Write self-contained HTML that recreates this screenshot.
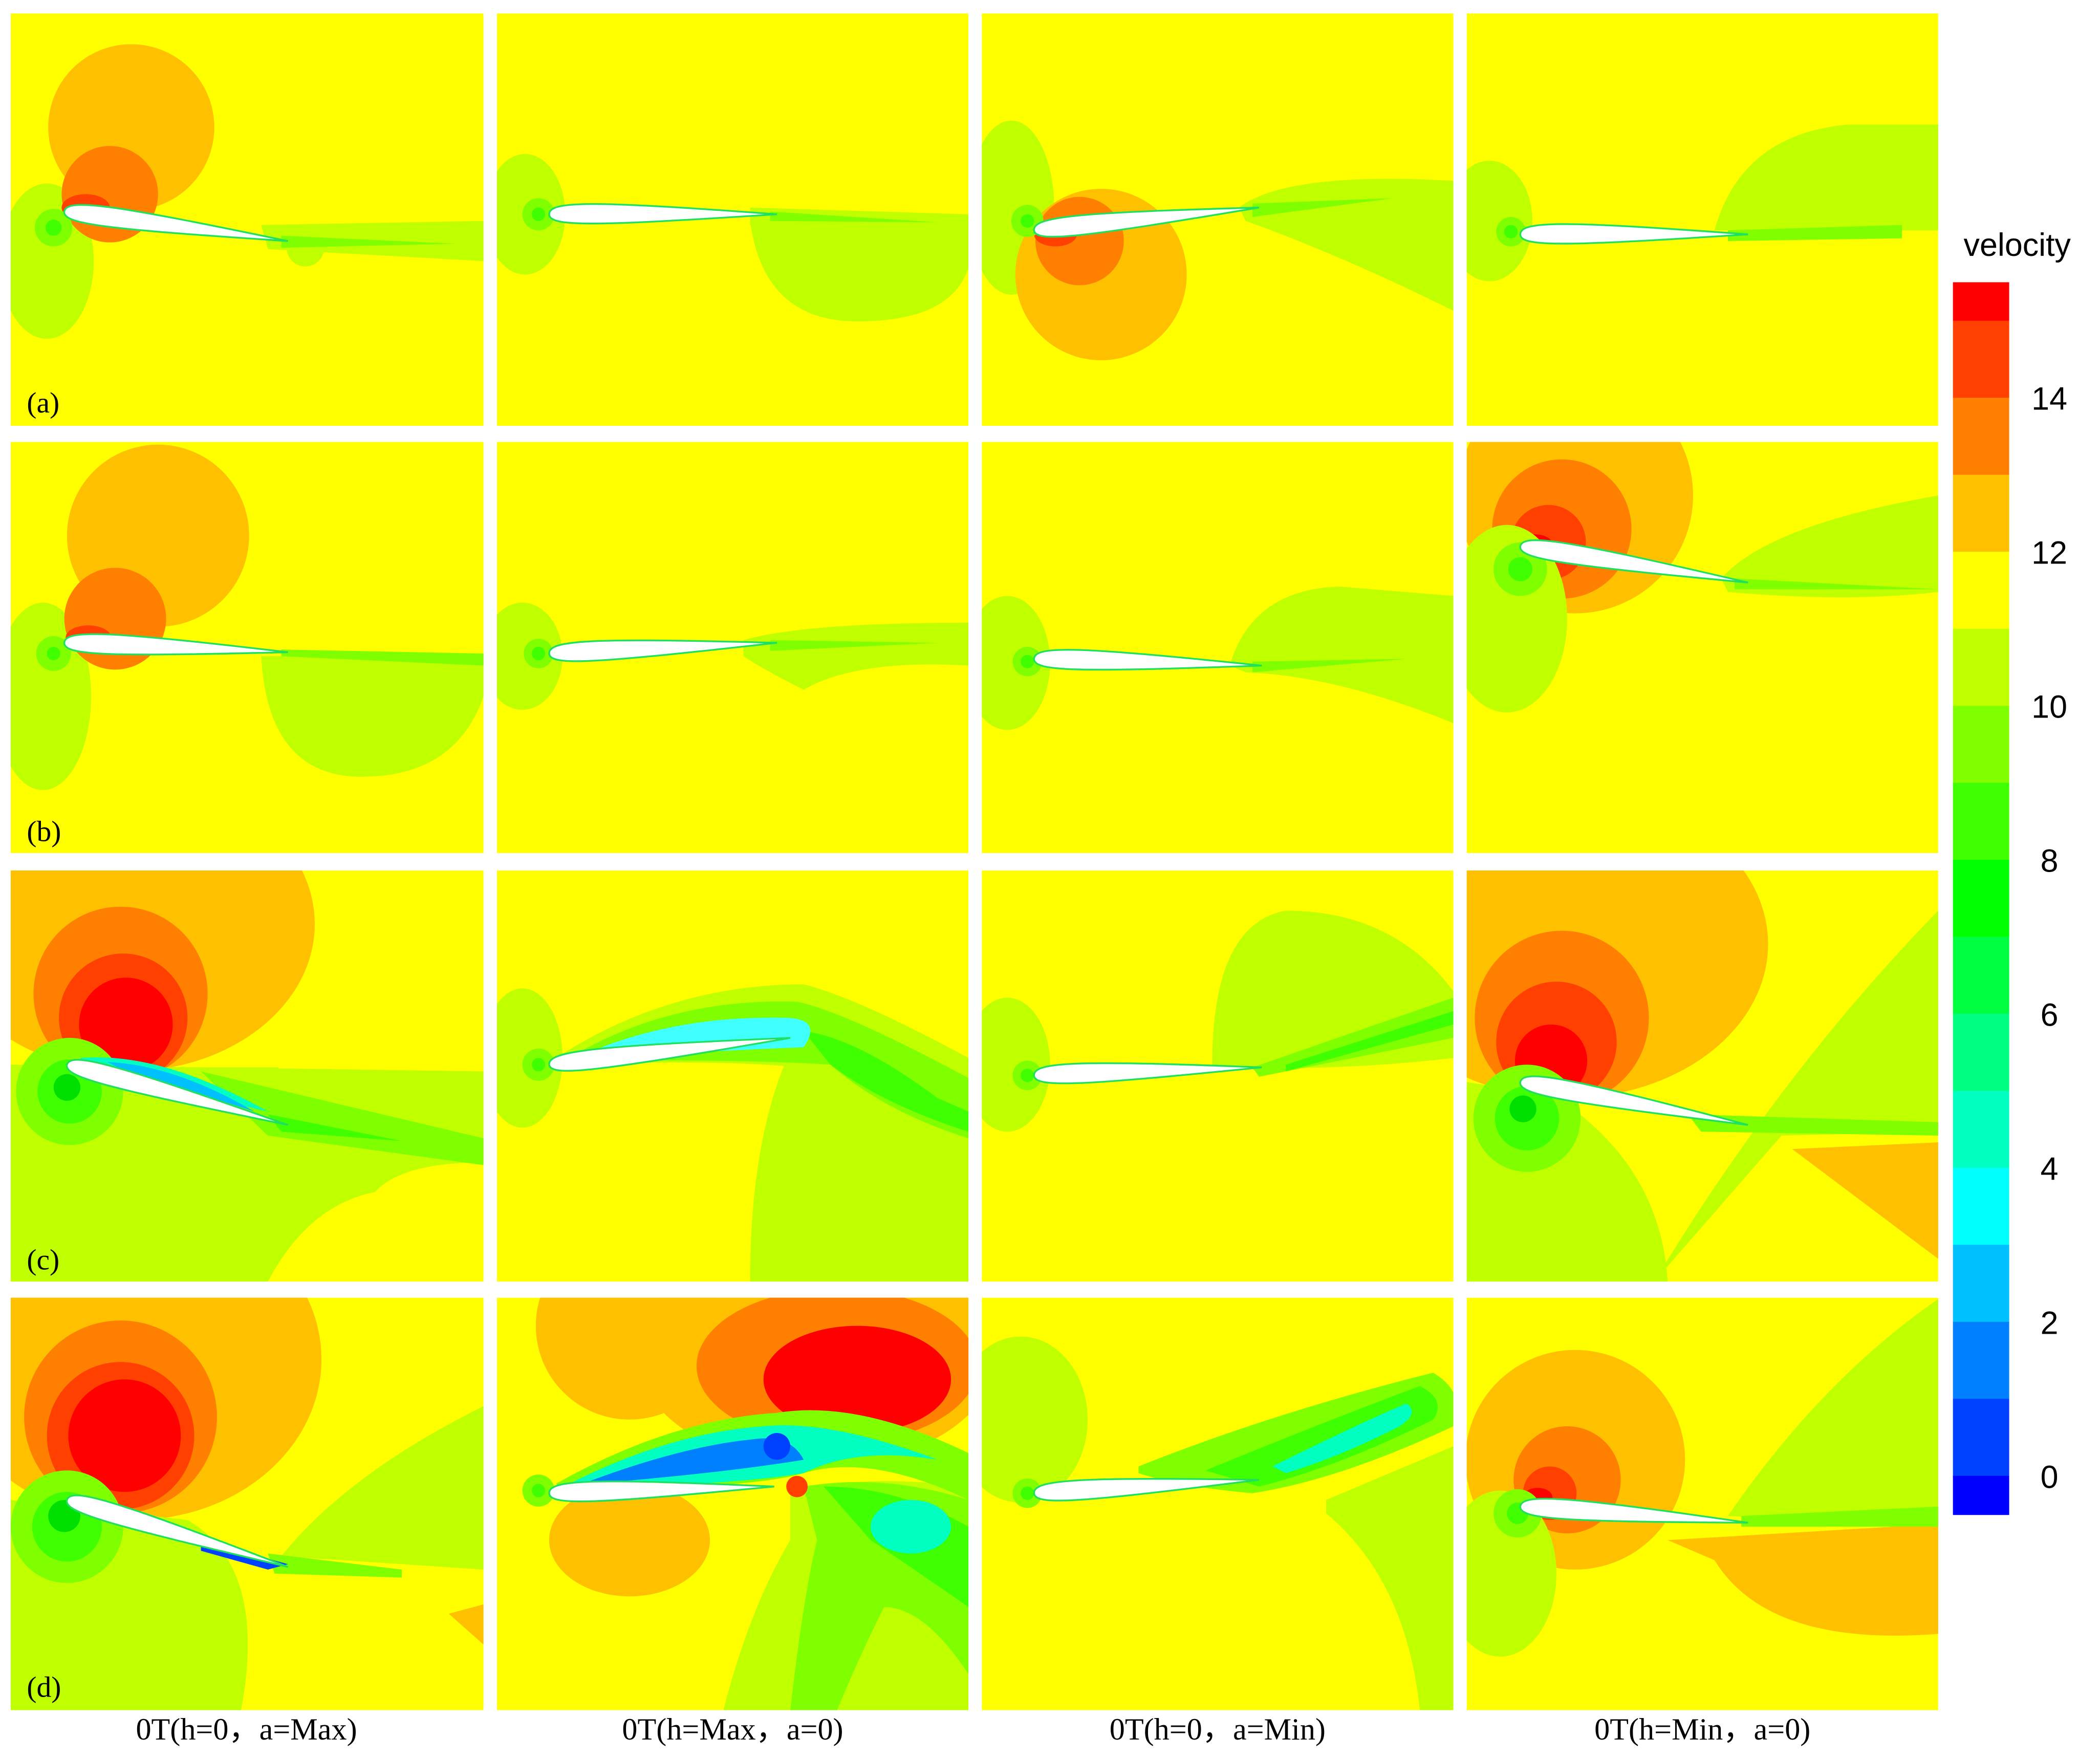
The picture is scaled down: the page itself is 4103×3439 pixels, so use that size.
<!DOCTYPE html>
<html><head><meta charset="utf-8"><style>
html,body{margin:0;padding:0;background:#fff;}
svg{display:block;}
.lbl{font-family:"Liberation Serif",serif;font-size:22px;fill:#000;}
.cap{font-family:"Liberation Serif",serif;font-size:23px;fill:#000;}
.cb{font-family:"Liberation Sans",sans-serif;font-size:24px;fill:#000;}
</style></head><body>
<svg id="fig" width="4103" height="3439" viewBox="0 0 1567.8 1314.2" preserveAspectRatio="none" xmlns="http://www.w3.org/2000/svg">
<defs>
<clipPath id="c00"><rect x="8" y="10" width="353" height="308"/></clipPath>
<clipPath id="c01"><rect x="371" y="10" width="352" height="308"/></clipPath>
<clipPath id="c02"><rect x="733" y="10" width="352" height="308"/></clipPath>
<clipPath id="c03"><rect x="1095" y="10" width="352" height="308"/></clipPath>
<clipPath id="c10"><rect x="8" y="330" width="353" height="307"/></clipPath>
<clipPath id="c11"><rect x="371" y="330" width="352" height="307"/></clipPath>
<clipPath id="c12"><rect x="733" y="330" width="352" height="307"/></clipPath>
<clipPath id="c13"><rect x="1095" y="330" width="352" height="307"/></clipPath>
<clipPath id="c20"><rect x="8" y="650" width="353" height="307"/></clipPath>
<clipPath id="c21"><rect x="371" y="650" width="352" height="307"/></clipPath>
<clipPath id="c22"><rect x="733" y="650" width="352" height="307"/></clipPath>
<clipPath id="c23"><rect x="1095" y="650" width="352" height="307"/></clipPath>
<clipPath id="c30"><rect x="8" y="969" width="353" height="308"/></clipPath>
<clipPath id="c31"><rect x="371" y="969" width="352" height="308"/></clipPath>
<clipPath id="c32"><rect x="733" y="969" width="352" height="308"/></clipPath>
<clipPath id="c33"><rect x="1095" y="969" width="352" height="308"/></clipPath>
</defs>

<!-- Row a -->
<g clip-path="url(#c00)">
<rect x="8" y="10" width="353" height="308" fill="#ffff00"/>
<ellipse cx="35" cy="195" rx="35" ry="58" fill="#c0ff00"/>
<circle cx="98" cy="95" r="62" fill="#ffc000"/>
<circle cx="82" cy="145" r="36" fill="#ff8000"/>
<ellipse cx="64" cy="155" rx="18" ry="10" fill="#ff4000"/>
<path d="M195,168 L361,165 L361,195 L200,186Z" fill="#c0ff00"/>
<circle cx="228" cy="185" r="14" fill="#c0ff00"/>
<path d="M210,176 L340,182 L210,185Z" fill="#80ff00"/>
<circle cx="40" cy="170" r="14" fill="#80ff00"/><circle cx="40" cy="170" r="6" fill="#40ff00"/>
</g>
<g clip-path="url(#c01)">
<rect x="371" y="10" width="352" height="308" fill="#ffff00"/>
<ellipse cx="392" cy="160" rx="30" ry="45" fill="#c0ff00"/>
<path d="M560,165 Q570,240 640,240 Q710,240 723,200 L723,165 Z" fill="#c0ff00"/>
<path d="M560,155 L723,160 L723,172 L560,168Z" fill="#c0ff00"/>
<path d="M575,158 L700,166 L575,165Z" fill="#80ff00"/>
<circle cx="402" cy="160" r="12" fill="#80ff00"/><circle cx="402" cy="160" r="5" fill="#40ff00"/>
</g>
<g clip-path="url(#c02)">
<rect x="733" y="10" width="352" height="308" fill="#ffff00"/>
<ellipse cx="755" cy="155" rx="32" ry="65" fill="#c0ff00"/>
<circle cx="822" cy="205" r="64" fill="#ffc000"/>
<circle cx="806" cy="180" r="33" fill="#ff8000"/>
<ellipse cx="788" cy="175" rx="16" ry="9" fill="#ff4000"/>
<path d="M925,155 Q960,128 1085,135 L1085,232 Q1000,190 930,165Z" fill="#c0ff00"/>
<path d="M935,152 L1040,148 L935,162Z" fill="#80ff00"/>
<circle cx="767" cy="165" r="12" fill="#80ff00"/><circle cx="767" cy="165" r="5" fill="#40ff00"/>
</g>
<g clip-path="url(#c03)">
<rect x="1095" y="10" width="352" height="308" fill="#ffff00"/>
<ellipse cx="1112" cy="165" rx="32" ry="45" fill="#c0ff00"/>
<path d="M1280,172 Q1300,100 1380,93 L1447,93 L1447,172 Z" fill="#c0ff00"/>
<path d="M1290,172 L1420,168 L1420,178 L1290,180Z" fill="#80ff00"/>
<circle cx="1128" cy="173" r="11" fill="#80ff00"/><circle cx="1128" cy="173" r="5" fill="#40ff00"/>
</g>

<!-- Row b -->
<g clip-path="url(#c10)">
<rect x="8" y="330" width="353" height="307" fill="#ffff00"/>
<ellipse cx="32" cy="520" rx="36" ry="70" fill="#c0ff00"/>
<path d="M195,490 Q200,580 270,580 Q340,580 361,520 L361,488Z" fill="#c0ff00"/>
<circle cx="118" cy="400" r="68" fill="#ffc000"/>
<circle cx="86" cy="462" r="38" fill="#ff8000"/>
<ellipse cx="66" cy="476" rx="17" ry="9" fill="#ff4000"/>
<path d="M210,485 L361,488 L361,497 L210,490Z" fill="#80ff00"/>
<circle cx="40" cy="488" r="13" fill="#80ff00"/><circle cx="40" cy="488" r="5" fill="#40ff00"/>
</g>
<g clip-path="url(#c11)">
<rect x="371" y="330" width="352" height="307" fill="#ffff00"/>
<ellipse cx="390" cy="490" rx="30" ry="40" fill="#c0ff00"/>
<path d="M555,478 Q600,465 723,465 L723,497 Q640,492 600,515 Q570,500 555,490Z" fill="#c0ff00"/>
<path d="M575,478 L700,480 L575,486Z" fill="#80ff00"/>
<circle cx="402" cy="488" r="11" fill="#80ff00"/><circle cx="402" cy="488" r="5" fill="#40ff00"/>
</g>
<g clip-path="url(#c12)">
<rect x="733" y="330" width="352" height="307" fill="#ffff00"/>
<ellipse cx="752" cy="495" rx="32" ry="50" fill="#c0ff00"/>
<path d="M918,497 Q935,440 1000,438 L1085,445 L1085,540 Q1000,505 930,502Z" fill="#c0ff00"/>
<path d="M935,494 L1050,492 L935,502Z" fill="#80ff00"/>
<circle cx="767" cy="494" r="11" fill="#80ff00"/><circle cx="767" cy="494" r="5" fill="#40ff00"/>
</g>
<g clip-path="url(#c13)">
<rect x="1095" y="330" width="352" height="307" fill="#ffff00"/>
<circle cx="1176" cy="370" r="88" fill="#ffc000"/>
<circle cx="1166" cy="395" r="52" fill="#ff8000"/>
<circle cx="1156" cy="405" r="28" fill="#ff4000"/>
<ellipse cx="1146" cy="408" rx="14" ry="9" fill="#ff0000"/>
<ellipse cx="1125" cy="462" rx="45" ry="70" fill="#c0ff00"/>
<path d="M1285,432 Q1320,392 1447,370 L1447,442 Q1380,450 1290,442Z" fill="#c0ff00"/>
<path d="M1295,432 L1447,440 L1295,440Z" fill="#80ff00"/>
<circle cx="1135" cy="425" r="20" fill="#80ff00"/><circle cx="1135" cy="425" r="9" fill="#40ff00"/>
</g>

<!-- Row c -->
<g clip-path="url(#c20)">
<rect x="8" y="650" width="353" height="307" fill="#ffff00"/>
<path d="M8,795 L361,800 L361,868 Q300,868 280,890 Q230,900 200,957 L8,957Z" fill="#c0ff00"/>
<ellipse cx="95" cy="690" rx="140" ry="110" fill="#ffc000"/>
<circle cx="90" cy="742" r="65" fill="#ff8000"/>
<circle cx="92" cy="760" r="48" fill="#ff4000"/>
<circle cx="94" cy="765" r="35" fill="#ff0000"/>
<rect x="8" y="797" width="200" height="12" fill="#c0ff00"/>
<circle cx="52" cy="815" r="40" fill="#80ff00"/><circle cx="52" cy="815" r="24" fill="#40ff00"/><circle cx="50" cy="812" r="10" fill="#00e000"/>
<path d="M150,800 L361,850 L361,870 L200,848Z" fill="#80ff00"/>
<path d="M200,832 L300,852 L210,845Z" fill="#40ff00"/>
<path d="M60,790 Q120,785 200,830 L60,798Z" fill="#00ffc0"/>
<path d="M80,793 Q130,795 190,830 L90,798Z" fill="#00c0ff"/>
</g>
<g clip-path="url(#c21)">
<rect x="371" y="650" width="352" height="307" fill="#ffff00"/>
<ellipse cx="390" cy="790" rx="30" ry="52" fill="#c0ff00"/>
<path d="M590,785 Q560,850 560,957 L723,957 L723,815 Q660,795 600,780Z" fill="#c0ff00"/>
<path d="M415,790 Q500,735 600,735 Q640,745 723,790 L723,860 Q660,840 620,800 Q560,790 415,795Z" fill="#c0ff00"/>
<path d="M425,790 Q500,745 595,748 Q630,755 723,805 L723,850 Q660,830 620,795 Q540,790 425,793Z" fill="#80ff00"/>
<path d="M600,770 Q640,775 700,820 L723,830 L723,845 Q660,825 620,795Z" fill="#40ff00"/>
<path d="M430,790 Q500,758 585,760 Q615,760 600,782 Q520,785 430,792Z" fill="#40ffff"/>
<circle cx="402" cy="795" r="12" fill="#80ff00"/><circle cx="402" cy="795" r="5" fill="#40ff00"/>
</g>
<g clip-path="url(#c22)">
<rect x="733" y="650" width="352" height="307" fill="#ffff00"/>
<ellipse cx="752" cy="795" rx="32" ry="50" fill="#c0ff00"/>
<path d="M905,795 Q905,690 960,680 Q1040,680 1085,740 L1085,790 Q1000,800 905,797Z" fill="#c0ff00"/>
<path d="M935,797 L1085,745 L1085,775 L940,804Z" fill="#80ff00"/>
<path d="M960,795 L1085,755 L1085,765 L960,800Z" fill="#40ff00"/>
<circle cx="767" cy="803" r="11" fill="#80ff00"/><circle cx="767" cy="803" r="5" fill="#40ff00"/>
</g>
<g clip-path="url(#c23)">
<rect x="1095" y="650" width="352" height="307" fill="#ffff00"/>
<path d="M1235,957 Q1330,800 1447,680 L1447,845 L1330,848Z" fill="#c0ff00"/>
<path d="M1338,858 L1447,853 L1447,940 Z" fill="#ffc000"/>
<ellipse cx="1170" cy="705" rx="150" ry="115" fill="#ffc000"/>
<circle cx="1166" cy="760" r="65" fill="#ff8000"/>
<circle cx="1162" cy="778" r="45" fill="#ff4000"/>
<circle cx="1158" cy="792" r="27" fill="#ff0000"/>
<path d="M1095,808 L1160,818 Q1240,870 1245,957 L1095,957Z" fill="#c0ff00"/>
<circle cx="1140" cy="835" r="40" fill="#80ff00"/><circle cx="1140" cy="835" r="24" fill="#40ff00"/><circle cx="1137" cy="828" r="10" fill="#00e000"/>
<path d="M1260,832 L1447,838 L1447,848 L1270,845Z" fill="#80ff00"/>
</g>

<!-- Row d -->
<g clip-path="url(#c30)">
<rect x="8" y="969" width="353" height="308" fill="#ffff00"/>
<path d="M210,1162 Q260,1100 361,1050 L361,1172Z" fill="#c0ff00"/>
<path d="M335,1205 L361,1198 L361,1228Z" fill="#ffc000"/>
<ellipse cx="100" cy="1015" rx="140" ry="120" fill="#ffc000"/>
<circle cx="90" cy="1058" r="72" fill="#ff8000"/>
<circle cx="90" cy="1072" r="55" fill="#ff4000"/>
<circle cx="93" cy="1072" r="42" fill="#ff0000"/>
<path d="M8,1120 L140,1135 Q200,1170 180,1277 L8,1277Z" fill="#c0ff00"/>
<circle cx="50" cy="1140" r="42" fill="#80ff00"/><circle cx="50" cy="1140" r="26" fill="#40ff00"/><circle cx="48" cy="1132" r="12" fill="#00e000"/>
<path d="M200,1160 L300,1172 L300,1178 L205,1175Z" fill="#80ff00"/>
<path d="M150,1150 L215,1168 L200,1172 L150,1158Z" fill="#0040ff"/>
</g>
<g clip-path="url(#c31)">
<rect x="371" y="969" width="352" height="308" fill="#ffff00"/>
<ellipse cx="470" cy="990" rx="70" ry="70" fill="#ffc000"/>
<ellipse cx="610" cy="1010" rx="135" ry="85" fill="#ffc000"/>
<ellipse cx="625" cy="1020" rx="105" ry="58" fill="#ff8000"/>
<ellipse cx="640" cy="1030" rx="70" ry="40" fill="#ff0000"/>
<ellipse cx="470" cy="1150" rx="60" ry="42" fill="#ffc000"/>
<path d="M590,1115 Q640,1100 723,1110 L723,1277 L540,1277 Q560,1200 590,1150Z" fill="#c0ff00"/>
<path d="M600,1110 Q660,1100 723,1120 L723,1250 Q690,1200 660,1200 Q640,1240 625,1277 L590,1277 Q600,1190 610,1150Z" fill="#80ff00"/>
<path d="M615,1110 Q670,1110 723,1140 L723,1200 Q680,1170 650,1150Z" fill="#40ff00"/>
<ellipse cx="680" cy="1140" rx="30" ry="20" fill="#00ffc0"/>
<path d="M415,1108 Q500,1060 580,1055 Q640,1045 723,1085 L723,1120 Q650,1085 600,1100 Q560,1112 420,1112Z" fill="#80ff00"/>
<path d="M425,1108 Q500,1070 570,1065 Q620,1060 700,1090 Q640,1080 600,1100 Q540,1110 425,1110Z" fill="#00ffc0"/>
<path d="M440,1106 Q510,1080 560,1075 Q590,1070 600,1090 Q540,1100 440,1108Z" fill="#0080ff"/>
<circle cx="580" cy="1080" r="10" fill="#0040ff"/>
<circle cx="595" cy="1110" r="8" fill="#ff4000"/>
<circle cx="402" cy="1113" r="12" fill="#80ff00"/><circle cx="402" cy="1113" r="5" fill="#40ff00"/>
</g>
<g clip-path="url(#c32)">
<rect x="733" y="969" width="352" height="308" fill="#ffff00"/>
<ellipse cx="762" cy="1060" rx="50" ry="62" fill="#c0ff00"/>
<path d="M990,1120 L1085,1080 L1085,1277 L1060,1277 Q1050,1180 990,1130Z" fill="#c0ff00"/>
<path d="M850,1095 Q950,1055 1070,1025 Q1095,1040 1085,1065 Q1000,1105 935,1115 Q880,1110 850,1100Z" fill="#80ff00"/>
<path d="M900,1098 Q980,1065 1060,1035 Q1080,1045 1070,1060 Q1000,1095 940,1110Z" fill="#40ff00"/>
<path d="M950,1095 Q1010,1065 1050,1048 Q1060,1055 1045,1065 Q1000,1088 960,1100Z" fill="#00ffc0"/>
<circle cx="767" cy="1115" r="11" fill="#80ff00"/><circle cx="767" cy="1115" r="5" fill="#40ff00"/>
</g>
<g clip-path="url(#c33)">
<rect x="1095" y="969" width="352" height="308" fill="#ffff00"/>
<path d="M1290,1132 Q1360,1030 1447,970 L1447,1140Z" fill="#c0ff00"/>
<path d="M1245,1150 L1447,1138 L1447,1220 Q1320,1230 1280,1165Z" fill="#ffc000"/>
<circle cx="1176" cy="1090" r="82" fill="#ffc000"/>
<circle cx="1170" cy="1105" r="40" fill="#ff8000"/>
<circle cx="1157" cy="1115" r="20" fill="#ff4000"/>
<ellipse cx="1148" cy="1118" rx="11" ry="7" fill="#ff0000"/>
<ellipse cx="1120" cy="1175" rx="42" ry="62" fill="#c0ff00"/>
<circle cx="1133" cy="1130" r="18" fill="#80ff00"/><circle cx="1133" cy="1130" r="8" fill="#40ff00"/>
<path d="M1300,1132 L1447,1125 L1447,1140 L1300,1140Z" fill="#80ff00"/>
</g>

<g id="foils"></g>

<text class="lbl" x="20" y="308">(a)</text>
<text class="lbl" x="20" y="628">(b)</text>
<text class="lbl" x="20" y="948">(c)</text>
<text class="lbl" x="20" y="1267">(d)</text>

<text class="cap" x="184" y="1299" text-anchor="middle">0T(h=0，a=Max)</text>
<text class="cap" x="547" y="1299" text-anchor="middle">0T(h=Max，a=0)</text>
<text class="cap" x="909" y="1299" text-anchor="middle">0T(h=0，a=Min)</text>
<text class="cap" x="1271" y="1299" text-anchor="middle">0T(h=Min，a=0)</text>

<text class="cb" x="1506" y="191" text-anchor="middle">velocity</text>
<g id="colorbar"></g>
</svg>
<script>
const bandColors = ["#ff0000","#ff4000","#ff8000","#ffc000","#ffff00","#c0ff00","#80ff00","#40ff00","#00ff00","#00ff40","#00ff80","#00ffc0","#00ffff","#00c0ff","#0080ff","#0040ff","#0000ff"];
const bandTops = [15.5,15,14,13,12,11,10,9,8,7,6,5,4,3,2,1,0];
const bandBottoms = [15,14,13,12,11,10,9,8,7,6,5,4,3,2,1,0,-0.5];
const tickValues = [14,12,10,8,6,4,2,0];
const tickLabels = ["14","12","10","8","6","4","2","0"];
const NS = "http://www.w3.org/2000/svg";
function yScale(v){ return 1102 - v*57.5; }
const cb = document.getElementById("colorbar");
for (let i=0;i<bandColors.length;i++){
  const r = document.createElementNS(NS,"rect");
  r.setAttribute("x",1458); r.setAttribute("width",42);
  r.setAttribute("y",yScale(bandTops[i]));
  r.setAttribute("height",yScale(bandBottoms[i])-yScale(bandTops[i])+0.5);
  r.setAttribute("fill",bandColors[i]);
  
  
  cb.appendChild(r);
}
for (let i=0;i<tickValues.length;i++){
  const t = document.createElementNS(NS,"text");
  t.setAttribute("x",1530); t.setAttribute("y",yScale(tickValues[i])+9);
  t.setAttribute("text-anchor","middle"); t.setAttribute("class","cb");
  t.textContent = tickLabels[i];
  
  
  cb.appendChild(t);
}
const foilLE = [[48,158],[410,160],[772,172],[1135,175],[48,480],[410,488],[772,492],[1135,408],[50,795],[410,795],[772,803],[1135,808],[50,1120],[410,1115],[772,1115],[1135,1125]];
const foilTE = [[215,180],[580,160],[940,155],[1305,175],[215,487],[580,480],[942,497],[1305,435],[215,840],[590,775],[942,797],[1305,840],[215,1170],[578,1110],[940,1105],[1305,1137]];
const fg = document.getElementById("foils");
for (let i=0;i<foilLE.length;i++){
  const [x1,y1]=foilLE[i],[x2,y2]=foilTE[i];
  const L=Math.hypot(x2-x1,y2-y1), ang=Math.atan2(y2-y1,x2-x1)*180/Math.PI, t=8;
  const p=document.createElementNS(NS,"path");
  p.setAttribute("d",`M0,0 C0,${-1.3*t} ${0.2*L},${-1.25*t} ${L},0 C${0.2*L},${1.1*t} 0,${1.2*t} 0,0Z`);
  p.setAttribute("transform",`translate(${x1},${y1}) rotate(${ang})`);
  p.setAttribute("fill","#ffffff"); p.setAttribute("stroke","#20e060"); p.setAttribute("stroke-width","1.3");
  
  
  fg.appendChild(p);
}
</script>
</body></html>
